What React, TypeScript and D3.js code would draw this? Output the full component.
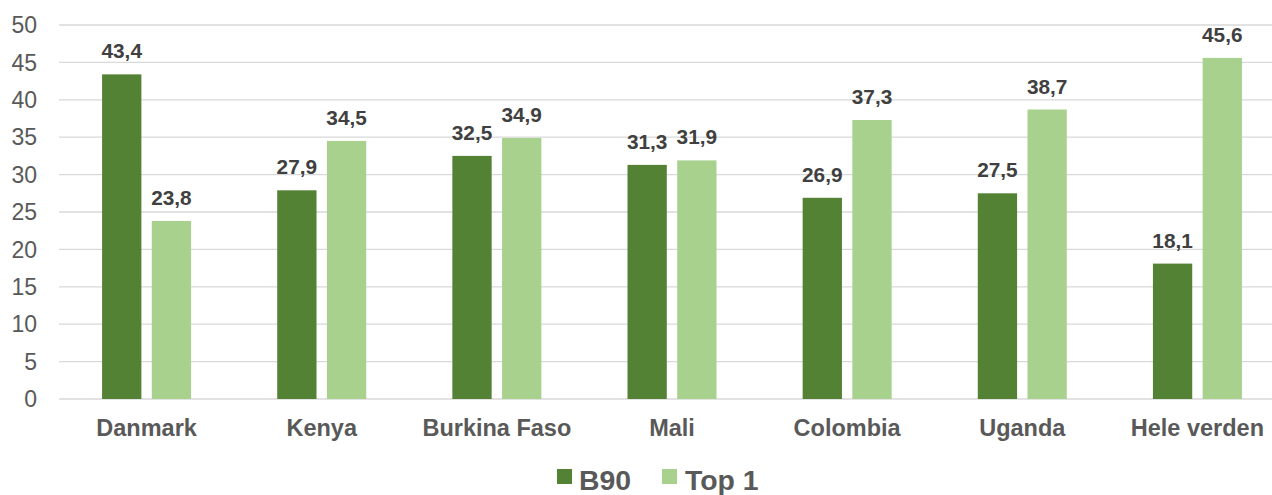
import * as React from 'react';
import * as d3 from 'd3';

const categories = ['Danmark', 'Kenya', 'Burkina Faso', 'Mali', 'Colombia', 'Uganda', 'Hele verden'];
const b90 = [43.4, 27.9, 32.5, 31.3, 26.9, 27.5, 18.1];
const top1 = [23.8, 34.5, 34.9, 31.9, 37.3, 38.7, 45.6];
const seriesNames = ['B90', 'Top 1'];
const colors = ['#548235', '#a9d18e'];
const yTicks = [0, 5, 10, 15, 20, 25, 30, 35, 40, 45, 50];

const W = 1272;
const H = 495;

export default function App() {
    const left = 59;
    const right = 1285;
    const x = d3.scaleBand<string>().domain(categories).range([left, right]);
    const y = d3.scaleLinear().domain([0, 50]).range([399, 25]);
    const barW = 39.3;
    const gap = 10.4;
    const fmt = (v: number) => v.toFixed(1).replace('.', ',');
    const series = [b90, top1];
    const font = 'Arial, "Liberation Sans", sans-serif';

    return (
        <svg width={W} height={H} style={{ position: 'absolute', left: 0, top: 0 }} fontFamily={font}>
            {yTicks.map(t => (
                <g key={t}>
                    <line x1={left} x2={W} y1={y(t)} y2={y(t)} stroke="#d9d9d9" strokeWidth={1.3} />
                    <text x={37} y={y(t)} dy="0.36em" textAnchor="end" fontSize={23} fill="#595959">{t}</text>
                </g>
            ))}
            {categories.map((c, i) => {
                const cx = (x(c) ?? 0) + x.bandwidth() / 2;
                return (
                    <g key={c}>
                        {series.map((s, j) => {
                            const bx = j === 0 ? cx - gap / 2 - barW : cx + gap / 2;
                            return (
                                <g key={j}>
                                    <rect x={bx} y={y(s[i])} width={barW} height={y(0) - y(s[i])} fill={colors[j]} />
                                    <text x={bx + barW / 2} y={y(s[i]) - 16} textAnchor="middle" fontSize={20.8} fontWeight="bold" fill="#404040">{fmt(s[i])}</text>
                                </g>
                            );
                        })}
                        <text x={cx} y={436} textAnchor="middle" fontSize={23.5} fontWeight="bold" fill="#595959">{c}</text>
                    </g>
                );
            })}
            <g>
                <rect x={557} y={469} width={15} height={15} fill={colors[0]} />
                <text x={579} y={490} fontSize={28.4} fontWeight="bold" fill="#595959">{seriesNames[0]}</text>
                <rect x={662} y={469} width={15} height={15} fill={colors[1]} />
                <text x={685} y={490} fontSize={28.4} fontWeight="bold" fill="#595959">{seriesNames[1]}</text>
            </g>
        </svg>
    );
}
